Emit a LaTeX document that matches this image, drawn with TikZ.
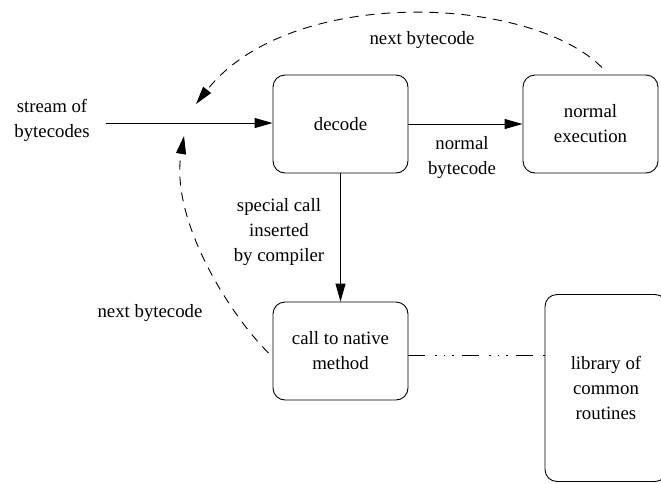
\documentclass[tikz,border=0pt]{standalone}
\usepackage{fontspec}
\setmainfont{Liberation Serif}
\newfontfamily\diagfont{Liberation Serif}
\usetikzlibrary{arrows.meta}
\begin{document}
\begin{tikzpicture}[x=1pt,y=-1pt,
  font=\diagfont\fontsize{18.8}{25}\selectfont,
  line width=0.9pt,
  box/.style={draw, rounded corners=12pt, minimum width=135pt, minimum height=98pt,
              align=center, inner sep=0pt},
  lbl/.style={align=center, inner sep=0pt},
  flow/.style={-{Triangle[length=18pt,width=10pt]}},
  backflow/.style={-{Triangle[length=18pt,width=10pt]}, dash pattern=on 9pt off 7pt},
  dashdots/.style={dash pattern=on 17pt off 10pt on 1.5pt off 7pt on 1.5pt off 7pt on 1.5pt off 8.5pt}]
  \useasboundingbox (0,0) rectangle (661,483);
  \clip (0,0) rectangle (661,483);

  % processing stages
  \node[box] (decode) at (340.5,124) {decode};
  \node[box] (normal) at (590.5,124) {normal\\execution};
  \node[box] (native) at (340.5,351) {call to native\\method};
  \node[box, minimum width=122pt, minimum height=187pt] (library) at (606,388) {library of\\common\\routines};

  % input stream
  \node[lbl] (stream) at (52,120) {stream of\\bytecodes};
  \coordinate (in) at (106,123);
  \draw[flow] (in) -- (decode.west |- in);

  % forward paths
  \draw[flow] (decode.east) -- (normal.west);
  \node[lbl] (nbc) at (462,158) {normal\\bytecode};
  \draw[flow] (decode.south) -- (native.north);
  \node[lbl] (special) at (279,232) {special call\\inserted\\by compiler};

  % link to the routine library
  \draw[dashdots] ([yshift=-4pt]native.east) -- ([yshift=-4pt]native.east -| library.west);

  % return paths to the input stream
  \coordinate (backtop) at (196,104);
  \coordinate (backleft) at (184,136);
  \draw[backflow] ([xshift=11.5pt,yshift=7pt]normal.north)
     .. controls (530,-5) and (290,-15) .. (backtop);
  \node[lbl] (nexttop) at (422,40) {next bytecode};
  \draw[backflow] ([xshift=-4pt,yshift=-2pt]native.west)
     .. controls (230,315) and (170,220) .. (backleft);
  \node[lbl] (nextleft) at (150,313) {next bytecode};
\end{tikzpicture}
\end{document}
